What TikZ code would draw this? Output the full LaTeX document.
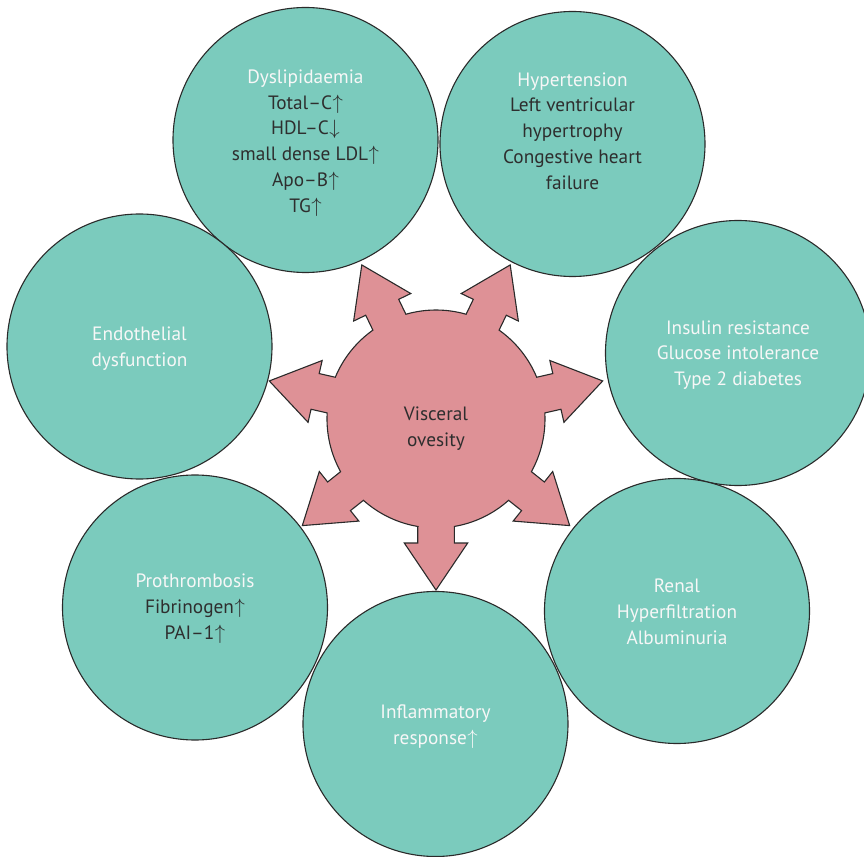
\documentclass[tikz,border=0pt]{standalone}
\usepackage{fontspec}
\setmainfont{PT Sans}
\definecolor{bubblefill}{HTML}{7BCBBD}
\definecolor{corefill}{HTML}{DE9196}
\definecolor{edge}{HTML}{2A2A2A}
\definecolor{bodytext}{HTML}{2E2E2E}
\definecolor{headtext}{HTML}{F7F7F7}
\newcommand{\up}{\kern0.5pt$\uparrow$}
\newcommand{\down}{\kern0.5pt$\downarrow$}
\newcommand{\head}[1]{\textcolor{headtext}{#1}}
\begin{document}
\begin{tikzpicture}[x=1pt,y=1pt,
  bubble/.style={circle, draw=edge, line width=1.1pt, fill=bubblefill,
    minimum size=265pt, inner sep=0pt},
  label text/.style={align=center, text=bodytext, inner sep=0pt,
    font=\fontsize{19.3}{25.8}\selectfont},
  coreshape/.style={fill=corefill, draw=edge, line width=1.1pt, line join=miter}]
\useasboundingbox (-436,-437) rectangle (428,419);

% outer ring of consequences
\node[bubble] (dys) at (-130.5,279) {};
\node[bubble] (hyp) at (136.5,275) {};
\node[bubble] (ins) at (302,66) {};
\node[bubble] (ren) at (241,-192) {};
\node[bubble] (inf) at (-0.5,-305) {};
\node[bubble] (pro) at (-241,-188.5) {};
\node[bubble] (end) at (-296.5,72.5) {};

\node[label text] (dystext) at ([yshift=-3]dys) {\head{Dyslipidaemia}\\Total–C\up\\HDL–C\down\\small dense LDL\up\\Apo–B\up\\TG\up};
\node[label text] (hyptext) at ([yshift=13]hyp) {\head{Hypertension}\\Left ventricular\\hypertrophy\\Congestive heart\\failure};
\node[label text, text=headtext] (instext) at ([yshift=-2]ins) {Insulin resistance\\Glucose intolerance\\Type 2 diabetes};
\node[label text, text=headtext] (rentext) at ([yshift=-1]ren) {Renal\\Hyperfiltration\\Albuminuria};
\node[label text, text=headtext] (inftext) at ([yshift=-3]inf) {Inflammatory\\response\up};
\node[label text] (protext) at ([yshift=-1]pro) {\head{Prothrombosis}\\Fibrinogen\up\\PAI–1\up};
\node[label text, text=headtext] (endtext) at ([yshift=-2]end) {Endothelial\\dysfunction};

% central disc with seven outgoing arrows
\draw[coreshape] ([rotate=-90]107.45,-18.3)
  \foreach \a in {-90,-38.5714,12.8571,64.2857,115.7143,167.1429,218.5714}{
    -- ([rotate=\a]124,-18.3) -- ([rotate=\a]124,-31.7) -- ([rotate=\a]171,0)
    -- ([rotate=\a]124,31.7) -- ([rotate=\a]124,18.3) -- ([rotate=\a]107.45,18.3)
    arc[start angle=\a+9.665, end angle=\a+41.7636, radius=109]
  } -- cycle;
\node[label text] (core) at (0,-10) {Visceral\\ovesity};
\end{tikzpicture}
\end{document}
